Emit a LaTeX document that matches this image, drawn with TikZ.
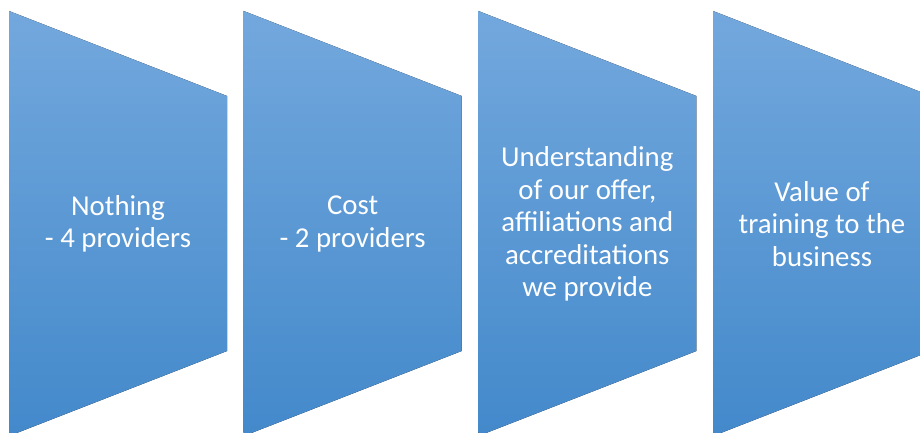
\documentclass[tikz,border=0pt]{standalone}
\usepackage{fontspec}
\setmainfont{Carlito}
\definecolor{topblue}{RGB}{115,168,221}
\definecolor{botblue}{RGB}{67,137,203}
\tikzset{
  stage/.style={top color=topblue, bottom color=botblue, draw=none},
  stagetext/.style={text=white, align=center, font=\fontsize{28.8}{32.5}\selectfont, inner sep=0pt}
}
\begin{document}
\begin{tikzpicture}[x=1pt,y=1pt]
\useasboundingbox (0,0) rectangle (920,432);
\clip (0,0) rectangle (920,432);
\foreach \i in {0,1,2,3}{
  \pgfmathsetmacro{\xl}{9+234.67*\i}
  \pgfmathsetmacro{\xr}{\xl+218}
  \fill[stage] (\xl,421) -- (\xr,336) -- (\xr,81) -- (\xl,-4) -- cycle;
}
\node[stagetext] (t1) at (118,208) {Nothing\\- 4 providers};
\node[stagetext] (t2) at (352.67,208) {Cost\\- 2 providers};
\node[stagetext] (t3) at (587.33,208) {Understanding\\of our offer,\\affiliations and\\accreditations\\we provide};
\node[stagetext] (t4) at (822,208) {Value of\\training to the\\business};
\end{tikzpicture}
\end{document}
